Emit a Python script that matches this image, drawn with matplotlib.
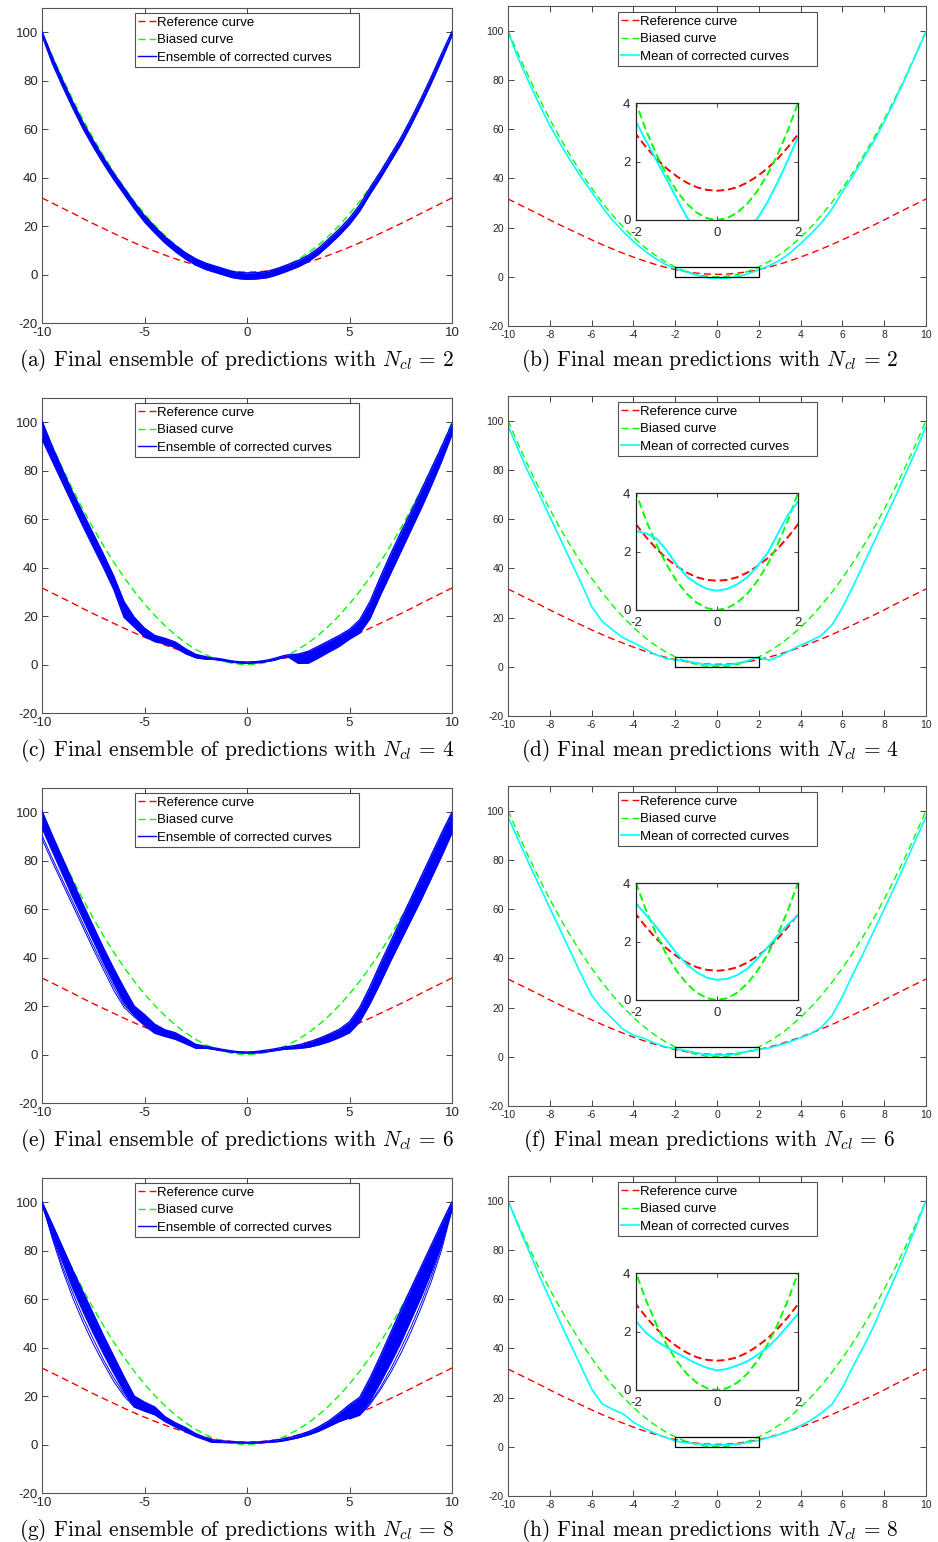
import matplotlib
matplotlib.use("Agg")
import matplotlib.pyplot as plt
from matplotlib.patches import Rectangle

plt.rcParams['font.family'] = ['Liberation Sans', 'DejaVu Sans']
plt.rcParams['axes.unicode_minus'] = False
plt.rcParams['mathtext.fontset'] = 'cm'

# ---------------------------------------------------------------- data
# sample abscissae: coarse outside [-2, 2], finer inside (zoomed inset)
x_nodes = [-10, -9.5, -9, -8.5, -8, -7.5, -7, -6.5, -6, -5.5, -5, -4.5, -4, -3.5, -3, -2.5, -2,
           -1.75, -1.5, -1.25, -1, -0.75, -0.5, -0.25, 0, 0.25, 0.5, 0.75, 1, 1.25, 1.5, 1.75,
           2, 2.5, 3, 3.5, 4, 4.5, 5, 5.5, 6, 6.5, 7, 7.5, 8, 8.5, 9, 9.5, 10]

reference_curve = [31.6, 29.5, 27.4, 25.3, 23.1, 21.0, 19.0, 17.0, 15.0, 13.1, 11.3, 9.6, 8.0, 6.5, 5.15, 3.95, 2.93,
                   2.49, 2.10, 1.77, 1.50, 1.28, 1.12, 1.03, 1.0, 1.03, 1.12, 1.28, 1.50, 1.77, 2.10, 2.49,
                   2.93, 3.95, 5.15, 6.5, 8.0, 9.6, 11.3, 13.1, 15.0, 17.0, 19.0, 21.0, 23.1, 25.3, 27.4, 29.5, 31.6]

biased_curve = [100, 90.25, 81, 72.25, 64, 56.25, 49, 42.25, 36, 30.25, 25, 20.25, 16, 12.25, 9, 6.25, 4,
                3.0625, 2.25, 1.5625, 1, 0.5625, 0.25, 0.0625, 0, 0.0625, 0.25, 0.5625, 1, 1.5625, 2.25, 3.0625,
                4, 6.25, 9, 12.25, 16, 20.25, 25, 30.25, 36, 42.25, 49, 56.25, 64, 72.25, 81, 90.25, 100]

# mean of the corrected curves, per number of clusters
mean_ncl2 = [99.5, 88.5, 79, 70, 61.5, 54, 47, 40.5, 34.5, 28.5, 23, 18.5, 14.3, 10.8, 7.7, 5.2, 3.35,
             2.7, 2.05, 1.4, 0.75, 0.1, -0.3, -0.52, -0.62, -0.6, -0.48, -0.25, 0.05, 0.62, 1.3, 2.05,
             2.83, 4.5, 6.7, 9.7, 13.5, 17.5, 22, 27.5, 34.5, 41, 48, 55, 63, 71.5, 80.5, 90, 99.5]
mean_ncl4 = [98, 88, 78.5, 70, 61, 52, 43, 34, 24.5, 18.5, 15, 11.8, 9.8, 7.6, 5.2, 3.5, 2.7,
             2.62, 2.45, 2.05, 1.55, 1.15, 0.9, 0.72, 0.66, 0.72, 0.88, 1.12, 1.5, 1.95, 2.6, 3.25,
             3.7, 2.7, 4.3, 6.6, 8.8, 10.6, 12.8, 17, 24, 32.5, 41.5, 50.5, 59.5, 68.5, 78, 87.5, 97.5]
mean_ncl6 = [97.5, 88, 78.5, 69.5, 60.5, 51.5, 42.5, 33.5, 25, 19.6, 15.5, 11.2, 8.8, 7.5, 5.6, 4.1, 3.3,
             2.9, 2.5, 2.05, 1.6, 1.22, 0.95, 0.76, 0.69, 0.72, 0.85, 1.07, 1.42, 1.8, 2.2, 2.58,
             2.9, 3.6, 4.8, 6.1, 7.7, 9.4, 12, 16.7, 24.5, 33.5, 42, 51, 60, 69, 78.5, 88, 97.5]
mean_ncl8 = [100, 89.5, 79.5, 69.5, 60, 50.5, 41.5, 32.5, 23.5, 17.5, 15.2, 13.4, 10, 7.6, 5.6, 3.9, 2.35,
             1.95, 1.68, 1.46, 1.27, 1.08, 0.9, 0.76, 0.67, 0.72, 0.84, 0.98, 1.2, 1.45, 1.8, 2.2,
             2.6, 3.8, 5.0, 6.6, 8.6, 10.8, 13.8, 17.2, 24, 32.5, 40.5, 49, 59, 68.5, 78.5, 89, 100]

# upper / lower envelopes of the ensemble of corrected curves
upper_ncl2 = [100.3, 89.8, 80.3, 71.3, 62.8, 55.3, 48.3, 41.8, 35.8, 29.8, 24.3, 19.8, 15.6, 12.1, 9.0, 6.5, 4.65,
              4.0, 3.35, 2.7, 2.05, 1.4, 1.0, 0.78, 0.68, 0.7, 0.82, 1.05, 1.35, 1.92, 2.6, 3.35,
              4.13, 5.8, 8.0, 11.0, 14.8, 18.8, 23.3, 28.8, 35.8, 42.3, 49.3, 56.3, 64.3, 72.8, 81.8, 91.3, 100.3]
lower_ncl2 = [98.7, 87.2, 77.7, 68.7, 60.2, 52.7, 45.7, 39.2, 33.2, 27.2, 21.7, 17.2, 13.0, 9.5, 6.4, 3.9, 2.05,
              1.4, 0.75, 0.1, -0.55, -1.2, -1.6, -1.82, -1.92, -1.9, -1.78, -1.55, -1.25, -0.68, 0.0, 0.75,
              1.53, 3.2, 5.4, 8.4, 12.2, 16.2, 20.7, 26.2, 33.2, 39.7, 46.7, 53.7, 61.7, 70.2, 79.2, 88.7, 98.7]

upper_ncl4 = [100.5, 90, 80.5, 71, 62.5, 54, 45.5, 36.5, 26, 19.5, 15, 12, 10.8, 9.3, 6.5, 4.2, 3.2,
              2.8, 2.6, 2.3, 1.9, 1.5, 1.25, 1.1, 1.05, 1.1, 1.25, 1.5, 1.85, 2.35, 2.95, 3.55,
              4.0, 4.3, 5.5, 7.6, 9.8, 12, 14.5, 18.5, 26, 36, 45.5, 54.5, 63, 72, 81, 90, 99.5]
lower_ncl4 = [93, 84, 75, 66, 57, 48.5, 40, 31, 19.5, 15.5, 11.5, 9.5, 8.5, 7, 4.5, 2.8, 2.2,
              2.2, 2.0, 1.7, 1.3, 1.0, 0.75, 0.6, 0.55, 0.6, 0.75, 0.95, 1.3, 1.7, 2.25, 2.8,
              3.2, 0.5, 0.6, 2.8, 5.2, 7.5, 10.5, 13, 19, 28.5, 37.5, 46.5, 55.5, 64.5, 74, 84, 95]

upper_ncl6 = [100.5, 90.5, 81, 71.5, 62, 53, 44, 35.5, 27.5, 20, 16.5, 12.5, 10.2, 9, 6.7, 4.2, 3.4,
              3.0, 2.6, 2.2, 1.85, 1.5, 1.25, 1.1, 1.05, 1.1, 1.3, 1.6, 1.9, 2.2, 2.6, 3.0,
              3.3, 3.9, 5.1, 6.6, 8.4, 10.4, 13.5, 19.5, 28, 37.5, 46.5, 55.5, 64.5, 73.5, 82.5, 91.5, 100]
lower_ncl6 = [93.5, 84, 74.5, 65, 56, 47, 38, 29.5, 21.5, 16.2, 12, 8.8, 7.5, 6.3, 4.5, 2.6, 2.6,
              2.3, 1.95, 1.6, 1.3, 1.0, 0.8, 0.65, 0.6, 0.62, 0.72, 0.9, 1.15, 1.45, 1.8, 2.1,
              2.3, 2.5, 3.0, 4.0, 5.3, 7.0, 9.0, 13.5, 21, 29.5, 38.5, 47, 55.5, 64, 73, 82, 91.5]

upper_ncl8 = [100.2, 91, 81.5, 72, 63, 54, 45, 36.5, 28, 20, 17.5, 15.5, 11.5, 9, 7, 4.5, 2.8,
              2.1, 1.75, 1.55, 1.4, 1.25, 1.1, 1.0, 0.95, 0.95, 1.05, 1.2, 1.4, 1.65, 1.95, 2.3,
              2.7, 3.9, 5.3, 7.3, 9.8, 13, 16.5, 19.5, 27.5, 36.5, 46, 55.5, 64.5, 73.5, 82.5, 91.5, 100.2]
lower_ncl8 = [99, 86.5, 75.5, 64.5, 55, 46, 37.5, 29.5, 22, 15.5, 13.8, 12.3, 9.5, 7.3, 5.3, 3.3, 1.8,
              1.0, 0.9, 0.85, 0.8, 0.75, 0.7, 0.65, 0.62, 0.62, 0.65, 0.75, 0.9, 1.05, 1.2, 1.5,
              1.9, 2.8, 4.0, 5.5, 7.5, 9.5, 11, 12.5, 18, 25.5, 33.5, 42, 51.5, 61, 71.5, 83, 97]

# a few ensemble members that stray away from the main band
stray_x_left = [-10, -9.5, -9, -8.5, -8, -7.5, -7, -6.5, -6, -5.5, -5, -4.5]
stray_ncl6_a = [90.5, 81, 72, 63, 54, 45, 36.5, 28, 20.5, 16.2, 12.5, 9.5]
stray_ncl6_b = [89, 79.5, 70.5, 61.5, 52.5, 43.5, 35, 26.5, 19.5, 15.5, 12, 9.2]

stray_x_left8 = [-10, -9.5, -9, -8.5, -8, -7.5, -7, -6.5, -6, -5.5, -5]
stray_ncl8_a = [100, 85, 72, 60.5, 50.5, 41.5, 33.5, 26, 20, 15.5, 14]
stray_ncl8_b = [100, 86, 73.5, 62.5, 52.5, 43.5, 35, 27.5, 21, 16, 14.2]
stray_x_right8 = [5, 5.5, 6, 6.5, 7, 7.5, 8, 8.5, 9, 9.5, 10]
stray_ncl8_c = [10.5, 12, 16.5, 22.5, 29.5, 37.5, 46.5, 56.5, 67.5, 80.5, 97]
stray_ncl8_d = [10.8, 12.3, 17, 23.5, 31, 39.5, 48.5, 58.5, 69.5, 82, 97.5]

n_clusters = [2, 4, 6, 8]
means = [mean_ncl2, mean_ncl4, mean_ncl6, mean_ncl8]
uppers = [upper_ncl2, upper_ncl4, upper_ncl6, upper_ncl8]
lowers = [lower_ncl2, lower_ncl4, lower_ncl6, lower_ncl8]
strays = [
    [],
    [],
    [(stray_x_left, stray_ncl6_a), (stray_x_left, stray_ncl6_b)],
    [(stray_x_left8, stray_ncl8_a), (stray_x_left8, stray_ncl8_b),
     (stray_x_right8, stray_ncl8_c), (stray_x_right8, stray_ncl8_d)],
]
letters_left = ['a', 'c', 'e', 'g']
letters_right = ['b', 'd', 'f', 'h']

# ---------------------------------------------------------------- figure
W, H = 938, 1542
fig = plt.figure(figsize=(W / 100, H / 100), dpi=100)


def axes_px(x0, y0, x1, y1):
    return fig.add_axes([x0 / W, 1 - y1 / H, (x1 - x0) / W, (y1 - y0) / H])


RED, GREEN, BLUE, CYAN = '#ff0000', '#00ff00', '#0000ff', '#00ffff'
DASH = (0, (5, 3))
TXT = '#262626'


def style_main(ax, xticks, size):
    ax.set_xlim(-10, 10)
    ax.set_ylim(-20, 110)
    ax.set_xticks(xticks)
    ax.set_yticks(range(-20, 101, 20))
    ax.tick_params(direction='in', top=True, right=True, length=4, width=0.6,
                   labelsize=size, colors=TXT, pad=3)
    for s in ax.spines.values():
        s.set_color('#555555')
        s.set_linewidth(0.8)


def legend(ax, x0, w, top):
    leg = ax.legend(loc='upper left', bbox_to_anchor=(x0, 0, w, top), mode='expand',
                    fontsize=9.5, frameon=True, fancybox=False, edgecolor=TXT,
                    handlelength=1.35, handletextpad=0.1, labelspacing=0.42,
                    borderpad=0.25, borderaxespad=0)
    leg.get_frame().set_linewidth(0.8)
    for t in leg.get_texts():
        t.set_color('black')
    return leg


for row in range(4):
    off = row * 390
    n = n_clusters[row]

    # ---- ensemble of predictions
    ax = axes_px(42, 8 + off, 452, 323 + off)
    ax.plot(x_nodes, reference_curve, color=RED, lw=1.0, ls=DASH, label='Reference curve', zorder=2)
    ax.plot(x_nodes, biased_curve, color=GREEN, lw=1.0, ls=DASH, label='Biased curve', zorder=2)
    ax.fill_between(x_nodes, lowers[row], uppers[row], color=BLUE, lw=0, zorder=3)
    ax.plot(x_nodes, uppers[row], color=BLUE, lw=1.0, zorder=3, label='Ensemble of corrected curves')
    ax.plot(x_nodes, lowers[row], color=BLUE, lw=1.0, zorder=3)
    for sx, sy in strays[row]:
        ax.plot(sx, sy, color=BLUE, lw=0.7, zorder=3)
    style_main(ax, [-10, -5, 0, 5, 10], 9.5)
    legend(ax, (135 - 42) / 410, 224 / 410, 1 - 5 / 315)
    fig.text(237 / W, 1 - (360 + off) / H,
             rf"({letters_left[row]}) Final ensemble of predictions with $N_{{cl}}\,=\,{n}$",
             ha='center', va='center', fontsize=15.4, family='cmr10')

    # ---- mean prediction
    ax2 = axes_px(508, 6 + off, 926, 326 + off)
    ax2.plot(x_nodes, reference_curve, color=RED, lw=1.0, ls=DASH, label='Reference curve')
    ax2.plot(x_nodes, biased_curve, color=GREEN, lw=1.0, ls=DASH, label='Biased curve')
    ax2.plot(x_nodes, means[row], color=CYAN, lw=1.2, label='Mean of corrected curves')
    ax2.add_patch(Rectangle((-2, 0), 4, 4, fill=False, ec='black', lw=0.9, zorder=4))
    style_main(ax2, range(-10, 11, 2), 7.5)
    legend(ax2, (618 - 508) / 418, 199 / 418, 1 - 6 / 320)
    fig.text(709.5 / W, 1 - (360 + off) / H,
             rf"({letters_right[row]}) Final mean predictions with $N_{{cl}}\,=\,{n}$",
             ha='center', va='center', fontsize=15.4, family='cmr10')

    # ---- zoom on [-2, 2] x [0, 4]
    ins = axes_px(636, 103 + off, 798, 220 + off)
    ins.plot(x_nodes, reference_curve, color=RED, lw=1.4, ls=(0, (4, 2)))
    ins.plot(x_nodes, biased_curve, color=GREEN, lw=1.4, ls=(0, (4, 2)))
    ins.plot(x_nodes, means[row], color=CYAN, lw=1.4)
    ins.set_xlim(-2, 2)
    ins.set_ylim(0, 4)
    ins.set_xticks([-2, 0, 2])
    ins.set_yticks([0, 2, 4])
    ins.tick_params(direction='in', top=True, right=True, length=3, width=0.6,
                    labelsize=9.5, colors=TXT)
    ins.tick_params(axis='x', pad=5)
    ins.tick_params(axis='y', pad=4)
    for s in ins.spines.values():
        s.set_color(TXT)
        s.set_linewidth(0.9)

fig.savefig('out.png', dpi=100)
